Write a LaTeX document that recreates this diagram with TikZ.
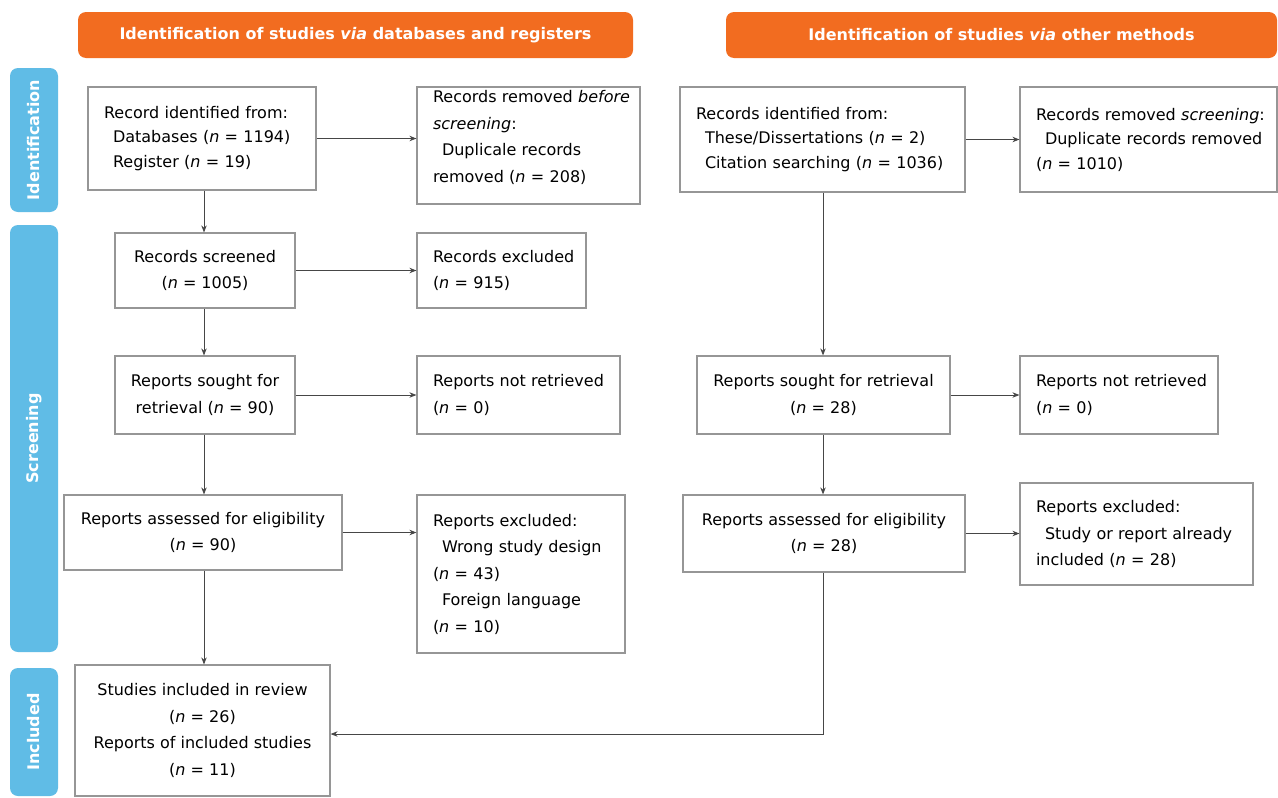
\documentclass[tikz,border=0pt]{standalone}
\usepackage{fontspec}
\setmainfont{DejaVu Sans}
\usetikzlibrary{arrows.meta}
\definecolor{hdr}{RGB}{242,108,32}
\definecolor{side}{RGB}{96,188,230}
\definecolor{bord}{RGB}{150,150,150}
\definecolor{arr}{RGB}{70,70,70}
\newcommand{\nn}{\textit{n}}
\newcommand{\ind}{\hspace*{9pt}}
\newcommand{\tl}[1]{\mbox{#1}}
\hbadness=10000 \hfuzz=200pt
\tikzset{
  box/.style={draw=bord, line width=1.2pt, fill=white, inner ysep=0pt,
    font=\fontsize{16}{26.5}\selectfont},
  lbox/.style={box, align=left, inner xsep=16pt},
  cbox/.style={box, align=center, inner xsep=4pt},
  hdrbox/.style={fill=hdr, rounded corners=8pt, text=white, inner sep=0pt,
    font=\fontsize{16}{20}\selectfont\bfseries},
  sidebox/.style={fill=side, rounded corners=8pt, text=white, inner sep=0pt,
    rotate=90, minimum height=48pt, font=\fontsize{16}{18}\selectfont\bfseries},
  conn/.style={draw=arr, line width=0.9pt, -{Stealth[length=7pt,width=5.5pt]}},
}
\begin{document}
\begin{tikzpicture}[x=1pt,y=-1pt]
\useasboundingbox (0,0) rectangle (1278,798);
\fill[white] (0,0) rectangle (1278,798);
% headers
\node[hdrbox, minimum width=555pt, minimum height=46pt] (h1) at (355.5,35) {Identification of studies \textit{via} databases and registers};
\node[hdrbox, minimum width=551pt, minimum height=46pt] (h2) at (1001.5,35) {Identification of studies \textit{via} other methods};
% side bars
\node[sidebox, minimum width=144pt] (s1) at (34,140) {Identification};
\node[sidebox, minimum width=427pt] (s2) at (34,438.5) {Screening};
\node[sidebox, minimum width=128pt] (s3) at (34,732) {Included};
% left column
\node[lbox, minimum width=228pt, text width=196pt, minimum height=103pt, font=\fontsize{16}{24.5}\selectfont] (b1) at (202,138.5)
  {\tl{Record identified from:}\\\tl{\ind Databases (\nn{} = 1194)}\\\tl{\ind Register (\nn{} = 19)}};
\node[lbox, minimum width=223pt, text width=191pt, minimum height=117pt] (b2) at (528.5,145.5)
  {\tl{Records removed \textit{before}}\\\tl{\textit{screening}:}\\\tl{\ind Duplicale records}\\\tl{removed (\nn{} = 208)}\\[-8pt]\mbox{}};
\node[cbox, minimum width=180pt, minimum height=75pt] (b3) at (205,270.5)
  {Records screened\\(\nn{} = 1005)};
\node[lbox, minimum width=169pt, text width=137pt, minimum height=75pt] (b4) at (501.5,270.5)
  {\tl{Records excluded}\\\tl{(\nn{} = 915)}};
\node[cbox, minimum width=180pt, minimum height=78pt] (b5) at (205,395)
  {Reports sought for\\retrieval (\nn{} = 90)};
\node[lbox, minimum width=203pt, text width=171pt, minimum height=78pt] (b6) at (518.5,395)
  {\tl{Reports not retrieved}\\\tl{(\nn{} = 0)}};
\node[cbox, minimum width=278pt, minimum height=75pt] (b7) at (203,532.5)
  {Reports assessed for eligibility\\(\nn{} = 90)};
\node[lbox, minimum width=208pt, text width=176pt, minimum height=158pt] (b8) at (521,574)
  {\tl{Reports excluded:}\\\tl{\ind Wrong study design}\\\tl{(\nn{} = 43)}\\\tl{\ind Foreign language}\\\tl{(\nn{} = 10)}};
\node[cbox, minimum width=255pt, minimum height=131pt] (b9) at (202.5,730.5)
  {Studies included in review\\(\nn{} = 26)\\Reports of included studies\\(\nn{} = 11)};
% right column
\node[lbox, minimum width=285pt, text width=253pt, minimum height=105pt, font=\fontsize{16}{24.5}\selectfont] (r1) at (822.5,139.5)
  {\tl{Records identified from:}\\\tl{\ind These/Dissertations (\nn{} = 2)}\\\tl{\ind Citation searching (\nn{} = 1036)}};
\node[lbox, minimum width=257pt, text width=225pt, minimum height=105pt, font=\fontsize{16}{24.5}\selectfont] (r2) at (1148.5,139.5)
  {\tl{Records removed \textit{screening}:}\\\tl{\ind Duplicate records removed}\\\tl{(\nn{} = 1010)}};
\node[cbox, minimum width=253pt, minimum height=78pt] (r3) at (823.5,395)
  {Reports sought for retrieval\\(\nn{} = 28)};
\node[lbox, minimum width=198pt, text width=166pt, minimum height=78pt] (r4) at (1119,395)
  {\tl{Reports not retrieved}\\\tl{(\nn{} = 0)}};
\node[cbox, minimum width=282pt, minimum height=77pt] (r5) at (824,533.5)
  {Reports assessed for eligibility\\(\nn{} = 28)};
\node[lbox, minimum width=233pt, text width=201pt, minimum height=102pt] (r6) at (1136.5,534)
  {\tl{Reports excluded:}\\\tl{\ind Study or report already}\\\tl{included (\nn{} = 28)}};
% connectors left
\draw[conn] (b1.east) -- (b1.east -| b2.west);
\draw[conn] (b3.east) -- (b3.east -| b4.west);
\draw[conn] (b5.east) -- (b5.east -| b6.west);
\draw[conn] (b7.east) -- (b7.east -| b8.west);
\coordinate (lx) at (204,0);
\draw[conn] (lx |- b1.south) -- (lx |- b3.north);
\draw[conn] (lx |- b3.south) -- (lx |- b5.north);
\draw[conn] (lx |- b5.south) -- (lx |- b7.north);
\draw[conn] (lx |- b7.south) -- (lx |- b9.north);
% connectors right
\draw[conn] (r1.east) -- (r1.east -| r2.west);
\draw[conn] (r3.east) -- (r3.east -| r4.west);
\draw[conn] (r5.east) -- (r5.east -| r6.west);
\coordinate (rx) at (823,0);
\draw[conn] (rx |- r1.south) -- (rx |- r3.north);
\draw[conn] (rx |- r3.south) -- (rx |- r5.north);
\coordinate (bend) at (823,734);
\draw[conn] (rx |- r5.south) -- (bend) -- (bend -| b9.east);
\end{tikzpicture}
\end{document}
